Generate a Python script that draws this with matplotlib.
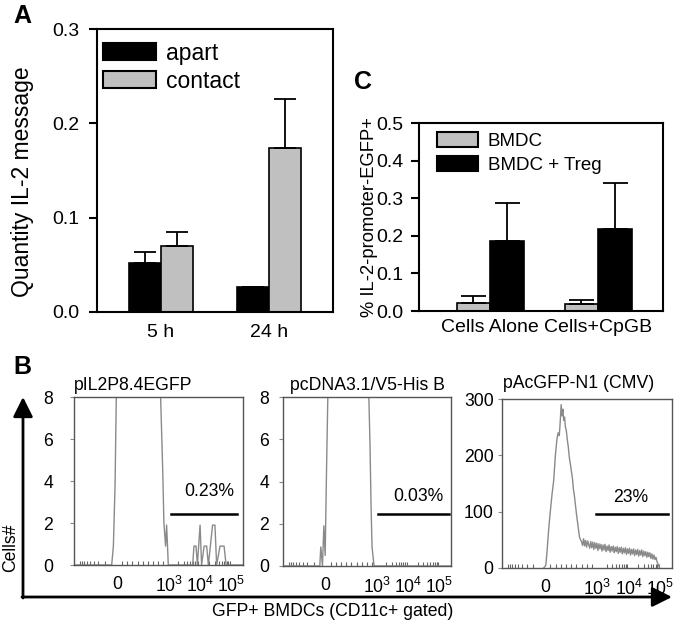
import matplotlib
matplotlib.use('Agg')
import matplotlib.pyplot as plt
import numpy as np

plt.rcParams['font.family'] = ['Liberation Sans', 'DejaVu Sans']
plt.rcParams['mathtext.fontset'] = 'custom'
plt.rcParams['mathtext.rm'] = 'Liberation Sans'
plt.rcParams['mathtext.it'] = 'Liberation Sans:italic'

# panel A data
a_times = ['5 h', '24 h']
a_apart = [0.052, 0.026]
a_apart_err = [0.012, 0.001]
a_contact = [0.070, 0.174]
a_contact_err = [0.015, 0.052]

# panel C data
c_groups = ['Cells Alone', 'Cells+CpGB']
c_bmdc = [0.022, 0.019]
c_bmdc_err = [0.018, 0.011]
c_treg = [0.185, 0.219]
c_treg_err = [0.102, 0.121]

# panel B histograms (x in display units of the biexponential axis, y = count)
b1_x = [0.0, 0.223, 0.233, 0.243, 0.252, 0.509, 0.525, 0.532, 0.542, 0.548, 0.558,
        0.702, 0.71, 0.722, 0.73, 0.746, 0.755, 0.77, 0.785, 0.795, 0.82, 0.834,
        0.844, 0.864, 0.88, 0.888, 0.9, 1.0]
b1_y = [0, 0, 0.9, 3.8, 9, 9, 4.5, 2.0, 0.9, 1.9, 0,
        0, 0.9, 0.9, 0, 1.9, 0, 0.9, 0.9, 0, 1.9, 1.9,
        0, 0.9, 0.9, 0.9, 0, 0]
b1_gate = 0.23

b2_x = [0.0, 0.219, 0.225, 0.235, 0.243, 0.251, 0.259, 0.269, 0.508, 0.518, 0.524,
        0.53, 0.542, 1.0]
b2_y = [0, 0, 0.9, 0, 1.9, 0.5, 4.5, 9, 9, 5.7, 2.9,
        0.9, 0, 0]
b2_gate = 0.03

b3_x = [0.245, 0.258, 0.265, 0.275, 0.284, 0.294, 0.304, 0.314, 0.323, 0.33, 0.337,
        0.343, 0.348, 0.353, 0.358, 0.363, 0.368, 0.373, 0.378, 0.384, 0.39, 0.396,
        0.402, 0.408, 0.414, 0.42, 0.426, 0.432, 0.438, 0.444, 0.45, 0.456, 0.462,
        0.468, 0.474, 0.48, 0.486, 0.492, 0.498, 0.504, 0.51, 0.516, 0.522, 0.528,
        0.534, 0.54, 0.546, 0.552, 0.558, 0.564, 0.57, 0.576, 0.582, 0.588, 0.594,
        0.6, 0.606, 0.612, 0.618, 0.624, 0.63, 0.636, 0.642, 0.648, 0.654, 0.66,
        0.666, 0.672, 0.678, 0.684, 0.69, 0.696, 0.702, 0.708, 0.714, 0.72, 0.726,
        0.732, 0.738, 0.744, 0.75, 0.756, 0.762, 0.768, 0.774, 0.78, 0.786, 0.792,
        0.798, 0.804, 0.81, 0.816, 0.822, 0.828, 0.834, 0.84, 0.846, 0.852, 0.858,
        0.864, 0.87, 0.876, 0.882, 0.888, 0.894, 0.9, 0.906, 0.912, 0.92, 0.927]
b3_y = [0, 5, 30, 70, 100, 130, 155, 200, 228, 240, 235,
        262, 290, 270, 282, 262, 268, 250, 245, 228, 215, 196,
        185, 172, 160, 140, 128, 112, 96, 82, 68, 55, 50,
        47, 40, 52, 39, 49, 37, 48, 42, 35, 47, 36,
        46, 33, 45, 35, 44, 31, 43, 34, 42, 30, 41,
        32, 42, 29, 39, 31, 41, 28, 38, 30, 39, 27,
        37, 29, 38, 26, 36, 28, 37, 25, 35, 27, 36,
        24, 34, 26, 35, 23, 33, 25, 34, 22, 32, 24,
        33, 21, 31, 23, 32, 20, 30, 22, 29, 19, 28,
        20, 27, 17, 25, 16, 23, 15, 19, 11, 6, 0]
b3_gate = 23

b_ticks = [0.254, 0.56, 0.745, 0.932]
b_ticklabels = ['0', r'$\mathregular{10^3}$', r'$\mathregular{10^4}$', r'$\mathregular{10^5}$']

GRAY = '#c0c0c0'
FS_B = 12.7

fig = plt.figure(figsize=(6.79, 6.27), dpi=100)


def fig_rect(left, top, right, bottom):
    W, H = 679.0, 627.0
    return [left / W, 1 - bottom / H, (right - left) / W, (bottom - top) / H]


def style_bar_axes(ax, fs, pad):
    for s in ax.spines.values():
        s.set_linewidth(1.5)
    ax.tick_params(axis='y', direction='out', length=6, width=1.5, pad=pad, labelsize=fs)
    ax.tick_params(axis='x', length=0, labelsize=fs)


# ---- panel A
axA = fig.add_axes(fig_rect(97, 29, 333, 312))
x = np.arange(len(a_times))
w = 0.3
axA.bar(x - w / 2, a_apart, w, color='black', edgecolor='black', lw=1.2, label='apart')
axA.bar(x + w / 2, a_contact, w, color=GRAY, edgecolor='black', lw=1.2, label='contact')
axA.errorbar(x - w / 2, a_apart, yerr=[[0, 0], a_apart_err], fmt='none', ecolor='black',
             elinewidth=1.3, capsize=8, capthick=1.3)
axA.errorbar(x + w / 2, a_contact, yerr=[[0, 0], a_contact_err], fmt='none', ecolor='black',
             elinewidth=1.3, capsize=8, capthick=1.3)
axA.set_xlim(-0.593, 1.593)
axA.set_ylim(0, 0.3)
axA.set_yticks([0.0, 0.1, 0.2, 0.3])
axA.set_yticklabels(['0.0', '0.1', '0.2', '0.3'])
axA.set_xticks(x)
axA.set_xticklabels(a_times)
style_bar_axes(axA, 14, 7)
axA.tick_params(axis='x', pad=9)
axA.set_ylabel('Quantity IL-2 message', fontsize=16.5)
axA.yaxis.set_label_coords(-0.265, 0.46)
leg = axA.legend(loc='upper left', bbox_to_anchor=(0.025, 0.955), frameon=False, fontsize=16.5,
                 handlelength=2.3, handleheight=0.75, handletextpad=0.45, labelspacing=0.22,
                 borderpad=0, borderaxespad=0)
for p in leg.get_patches():
    p.set_linewidth(1.5)

# ---- panel C
axC = fig.add_axes(fig_rect(419, 123, 663, 311))
x = np.arange(len(c_groups))
w = 0.31
axC.bar(x - w / 2, c_bmdc, w, color=GRAY, edgecolor='black', lw=1.2, label='BMDC')
axC.bar(x + w / 2, c_treg, w, color='black', edgecolor='black', lw=1.2, label='BMDC + Treg')
axC.errorbar(x - w / 2, c_bmdc, yerr=[[0, 0], c_bmdc_err], fmt='none', ecolor='black',
             elinewidth=1.3, capsize=9, capthick=1.3)
axC.errorbar(x + w / 2, c_treg, yerr=[[0, 0], c_treg_err], fmt='none', ecolor='black',
             elinewidth=1.3, capsize=9, capthick=1.3)
axC.set_xlim(-0.657, 1.6)
axC.set_ylim(0, 0.5)
axC.set_yticks([0.0, 0.1, 0.2, 0.3, 0.4, 0.5])
axC.set_yticklabels(['0.0', '0.1', '0.2', '0.3', '0.4', '0.5'])
axC.set_xticks(x)
axC.set_xticklabels(c_groups)
style_bar_axes(axC, 14, 5)
axC.tick_params(axis='x', pad=6)
axC.set_ylabel('% IL-2-promoter-EGFP+', fontsize=13.2)
axC.yaxis.set_label_coords(-0.17, 0.5)
leg = axC.legend(loc='upper left', bbox_to_anchor=(0.074, 0.95), frameon=False, fontsize=13.5,
                 handlelength=2.2, handleheight=0.85, handletextpad=0.5, labelspacing=0.3,
                 borderpad=0, borderaxespad=0)
for p in leg.get_patches():
    p.set_linewidth(1.5)

# ---- panel B
minor = []
for lo, hi in [(0.56, 0.745), (0.745, 0.932)]:
    for k in range(2, 10):
        minor.append(lo + (hi - lo) * np.log10(k))
for lo, hi in [(0.254, 0.56)]:
    for k in range(1, 10):
        minor.append(lo + (hi - lo) * k / 10)
for k in range(2, 10):
    minor.append(0.254 - 0.254 * np.log10(k) * 0.9)


def flow_axes(rect, hx, hy, ymax, yticks, ypad, gate_x, gate_y, gate_txt, txt_x, txt_y, ha):
    ax = fig.add_axes(rect)
    ax.plot(hx, hy, color='#8a8a8a', lw=1.0)
    ax.set_xlim(0, 1)
    ax.set_ylim(0, ymax)
    ax.set_yticks(yticks)
    ax.set_xticks(b_ticks)
    ax.set_xticklabels(b_ticklabels)
    ax.set_xticks(minor, minor=True)
    ax.tick_params(axis='x', which='major', length=0, pad=8, labelsize=FS_B)
    ax.tick_params(axis='x', which='minor', direction='in', length=3, width=0.8, color='#666666')
    ax.tick_params(axis='y', direction='out', length=3, width=0.8, color='#888888', pad=ypad,
                   labelsize=FS_B)
    for s in ax.spines.values():
        s.set_linewidth(1.0)
        s.set_color('#555555')
    ax.plot(gate_x, [gate_y, gate_y], color='black', lw=1.8)
    ax.text(txt_x, txt_y, gate_txt, fontsize=FS_B, ha=ha, va='center')
    return ax


axB1 = flow_axes(fig_rect(74, 397, 243, 565), b1_x, b1_y, 8, [0, 2, 4, 6, 8], 12,
                 [0.572, 0.966], 2.42, '%.2f%%' % b1_gate, 0.8, 3.5, 'center')
axB2 = flow_axes(fig_rect(283, 397, 451, 566), b2_x, b2_y, 8, [0, 2, 4, 6, 8], 7,
                 [0.568, 0.986], 2.45, '%.2f%%' % b2_gate, 0.956, 3.3, 'right')
axB3 = flow_axes(fig_rect(502, 399, 672, 568), b3_x, b3_y, 300, [0, 100, 200, 300], 3,
                 [0.555, 0.975], 95, '%d%%' % b3_gate, 0.755, 126, 'center')

fig.text(74 / 679, 1 - 385 / 627, 'pIL2P8.4EGFP', fontsize=FS_B, ha='left', va='center')
fig.text(367 / 679, 1 - 385 / 627, 'pcDNA3.1/V5-His B', fontsize=FS_B, ha='center', va='center')
fig.text(579 / 679, 1 - 384 / 627, 'pAcGFP-N1 (CMV)', fontsize=FS_B, ha='center', va='center')

# big axes arrows for panel B
arrow = dict(arrowstyle='-|>,head_length=0.6,head_width=0.3', lw=2, color='black',
             mutation_scale=20, shrinkA=0, shrinkB=0)
axB1.annotate('', xy=(23 / 679, 1 - 397 / 627), xytext=(23 / 679, 1 - 598 / 627),
              xycoords='figure fraction', textcoords='figure fraction',
              arrowprops=arrow, annotation_clip=False)
axB1.annotate('', xy=(672 / 679, 1 - 597 / 627), xytext=(22 / 679, 1 - 597 / 627),
              xycoords='figure fraction', textcoords='figure fraction',
              arrowprops=arrow, annotation_clip=False)
fig.text(11 / 679, 1 - 548 / 627, 'Cells#', fontsize=FS_B, rotation=90, ha='center', va='center')
fig.text(333 / 679, 1 - 612 / 627, 'GFP+ BMDCs (CD11c+ gated)', fontsize=FS_B,
         ha='center', va='center')

# panel letters
fig.text(22 / 679, 1 - 16 / 627, 'A', fontsize=18, fontweight='bold', ha='center', va='center')
fig.text(363 / 679, 1 - 82 / 627, 'C', fontsize=18, fontweight='bold', ha='center', va='center')
fig.text(22 / 679, 1 - 367 / 627, 'B', fontsize=18, fontweight='bold', ha='center', va='center')

plt.savefig('out.png', dpi=100)
